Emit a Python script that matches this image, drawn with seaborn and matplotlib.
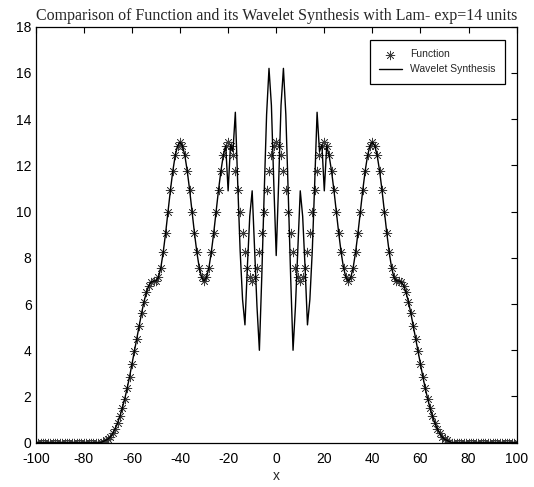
import matplotlib
matplotlib.use("Agg")
import matplotlib.pyplot as plt
import seaborn as sns
import numpy as np
import pandas as pd

# x grid of the sampled function
x_vals = np.arange(-100, 101)

# Function values (x = -100 ... 100, step 1)
func_vals = [
    0, 0, 0, 0, 0, 0, 0, 0, 0, 0,
    0, 0, 0, 0, 0, 0, 0, 0, 0, 0,
    0, 0, 0, 0, 0, 0, 0, 0, 0.05, 0.1,
    0.15, 0.25, 0.4, 0.6, 0.85, 1.15, 1.5, 1.9, 2.35, 2.85,
    3.4, 3.95, 4.5, 5.05, 5.6, 6.1, 6.5, 6.8, 6.95, 7.0,
    7.0, 7.15, 7.57, 8.24, 9.07, 10.0, 10.93, 11.76, 12.43, 12.85,
    13.0, 12.85, 12.43, 11.76, 10.93, 10.0, 9.07, 8.24, 7.57, 7.15,
    7.0, 7.15, 7.57, 8.24, 9.07, 10.0, 10.93, 11.76, 12.43, 12.85,
    13.0, 12.85, 12.43, 11.76, 10.93, 10.0, 9.07, 8.24, 7.57, 7.15,
    7.0, 7.15, 7.57, 8.24, 9.07, 10.0, 10.93, 11.76, 12.43, 12.85,
    13.0,
    12.85, 12.43, 11.76, 10.93, 10.0, 9.07, 8.24, 7.57, 7.15, 7.0,
    7.15, 7.57, 8.24, 9.07, 10.0, 10.93, 11.76, 12.43, 12.85, 13.0,
    12.85, 12.43, 11.76, 10.93, 10.0, 9.07, 8.24, 7.57, 7.15, 7.0,
    7.15, 7.57, 8.24, 9.07, 10.0, 10.93, 11.76, 12.43, 12.85, 13.0,
    12.85, 12.43, 11.76, 10.93, 10.0, 9.07, 8.24, 7.57, 7.15, 7.0,
    7.0, 6.95, 6.8, 6.5, 6.1, 5.6, 5.05, 4.5, 3.95, 3.4,
    2.85, 2.35, 1.9, 1.5, 1.15, 0.85, 0.6, 0.4, 0.25, 0.15,
    0.1, 0.05, 0, 0, 0, 0, 0, 0, 0, 0,
    0, 0, 0, 0, 0, 0, 0, 0, 0, 0,
    0, 0, 0, 0, 0, 0, 0, 0, 0, 0,
]

# Wavelet synthesis values (same grid)
synth_vals = [
    0, 0, 0, 0, 0, 0, 0, 0, 0, 0,
    0, 0, 0, 0, 0, 0, 0, 0, 0, 0,
    0, 0, 0, 0, 0, 0, 0, 0, 0.05, 0.1,
    0.15, 0.25, 0.4, 0.6, 0.85, 1.15, 1.5, 1.9, 2.35, 2.85,
    3.4, 3.95, 4.5, 5.05, 5.6, 6.1, 6.5, 6.8, 6.95, 7.0,
    7.0, 7.15, 7.57, 8.24, 9.07, 10.0, 10.93, 11.76, 12.43, 12.85,
    13.0, 12.85, 12.43, 11.76, 10.93, 10.0, 9.07, 8.24, 7.57, 7.15,
    7.0, 7.15, 7.57, 8.24, 9.07, 10.0, 10.93, 11.76, 12.43, 12.85,
    10.9, 12.9, 12.6, 14.3, 11.2, 8.3, 6.2, 5.1, 7.6, 9.8,
    10.9, 8.4, 5.9, 4.0, 7.2, 10.8, 14.2, 16.2, 14.6, 11.2,
    8.1,
    11.2, 14.6, 16.2, 14.2, 10.8, 7.2, 4.0, 5.9, 8.4, 10.9,
    9.8, 7.6, 5.1, 6.2, 8.3, 11.2, 14.3, 12.6, 12.9, 10.9,
    12.85, 12.43, 11.76, 10.93, 10.0, 9.07, 8.24, 7.57, 7.15, 7.0,
    7.15, 7.57, 8.24, 9.07, 10.0, 10.93, 11.76, 12.43, 12.85, 13.0,
    12.85, 12.43, 11.76, 10.93, 10.0, 9.07, 8.24, 7.57, 7.15, 7.0,
    7.0, 6.95, 6.8, 6.5, 6.1, 5.6, 5.05, 4.5, 3.95, 3.4,
    2.85, 2.35, 1.9, 1.5, 1.15, 0.85, 0.6, 0.4, 0.25, 0.15,
    0.1, 0.05, 0, 0, 0, 0, 0, 0, 0, 0,
    0, 0, 0, 0, 0, 0, 0, 0, 0, 0,
    0, 0, 0, 0, 0, 0, 0, 0, 0, 0,
]

data = pd.DataFrame({'x': x_vals, 'func': func_vals, 'synth': synth_vals})

sns.set_style("white")
plt.rcParams['font.family'] = ['Liberation Sans Narrow', 'Liberation Sans', 'DejaVu Sans']
plt.rcParams['axes.unicode_minus'] = False

fig = plt.figure(figsize=(5.34, 4.87), dpi=100)
ax = fig.add_axes([0.067, 0.091, 0.9005, 0.854])

sns.scatterplot(data=data, x='x', y='func', marker=(8, 2, 0), s=40,
                color='#3a3a3a', linewidth=0.5, ax=ax, label='Function', zorder=2)
sns.lineplot(data=data, x='x', y='synth', color='black', linewidth=1.0,
             ax=ax, label='Wavelet Synthesis', zorder=3)

ax.set_xlim(-100, 100)
ax.set_ylim(0, 18)
ax.set_xticks(range(-100, 101, 20))
ax.set_yticks(range(0, 19, 2))
ax.tick_params(direction='in', top=True, right=True, length=4, width=0.8,
               labelsize=10, colors='black')
ax.tick_params(axis='x', pad=7)
ax.tick_params(axis='y', pad=3)
for s in ax.spines.values():
    s.set_color('black')
    s.set_linewidth(0.9)

ax.set_xlabel('x', fontsize=10, labelpad=2)
ax.set_ylabel('')
ax.set_title('Comparison of Function and its Wavelet Synthesis with Lam- exp=14 units',
             fontsize=11.5, family='Liberation Serif', pad=5)

leg = ax.legend(loc='upper right', bbox_to_anchor=(0.976, 0.968), borderaxespad=0,
                fontsize=7.5, frameon=True, fancybox=False, edgecolor='black',
                framealpha=1, handlelength=2.2, borderpad=0.9, labelspacing=0.45)
leg.get_frame().set_linewidth(0.9)

fig.savefig('out.png', dpi=100)
